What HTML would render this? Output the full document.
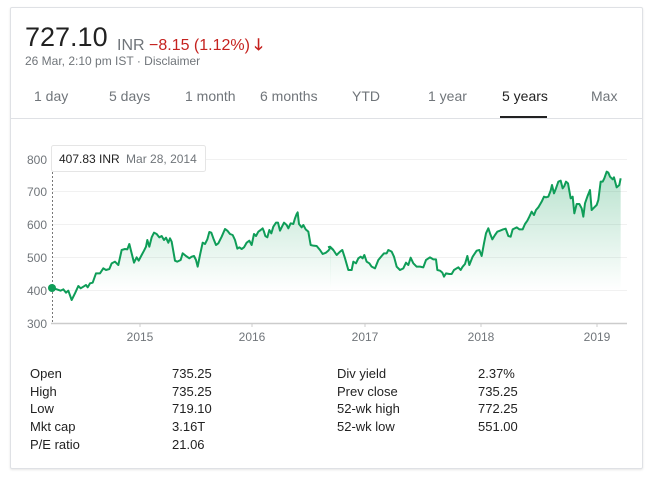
<!DOCTYPE html>
<html><head><style>
body{margin:0;background:#fff;font-family:"Liberation Sans",Arial,sans-serif;}
.card{position:absolute;left:10px;top:7px;width:631px;height:460px;border:1px solid #dfe1e5;border-radius:2px;box-shadow:0 1px 2px rgba(0,0,0,.1);}
.a{position:absolute;white-space:nowrap;}
.tab{position:absolute;top:88px;font-size:14px;color:#70757a;}
.st{position:absolute;font-size:13px;color:#222;}
</style></head><body>
<div class="card"></div>
<div class="a" style="left:25px;top:22px;font-size:27px;color:#222;">727.10</div>
<div class="a" style="left:117px;top:34px;font-size:16px;color:#70757a;">INR <span style="color:#c5221f">−8.15 (1.12%)</span> <span style="color:#c5221f;font-weight:bold">🡓</span></div>
<div class="a" style="left:25px;top:54px;font-size:12px;color:#70757a;">26 Mar, 2:10 pm IST · Disclaimer</div>
<div class="tab" style="left:34px">1 day</div>
<div class="tab" style="left:109px">5 days</div>
<div class="tab" style="left:185px">1 month</div>
<div class="tab" style="left:260px">6 months</div>
<div class="tab" style="left:352px">YTD</div>
<div class="tab" style="left:428px">1 year</div>
<div class="tab" style="left:502px;color:#222">5 years</div>
<div class="tab" style="left:591px">Max</div>
<div class="a" style="left:500px;top:116px;width:47px;height:3px;background:#222"></div>
<div class="a" style="left:11px;top:118px;width:631px;height:1px;background:#dfe1e5"></div>
<svg class="a" style="left:0;top:0" width="652" height="477">
<defs><linearGradient id="g" gradientUnits="userSpaceOnUse" x1="0" y1="0" x2="0" y2="420"><stop offset="0" stop-color="#0f9d58" stop-opacity=".35"/><stop offset="1" stop-color="#0f9d58" stop-opacity="0"/></linearGradient></defs>
<g stroke="#f1f1f1" stroke-width="1">
<line x1="52" x2="627" y1="159.5" y2="159.5"/><line x1="52" x2="627" y1="191.5" y2="191.5"/><line x1="52" x2="627" y1="224.5" y2="224.5"/><line x1="52" x2="627" y1="257.5" y2="257.5"/><line x1="52" x2="627" y1="290.5" y2="290.5"/>
</g>
<g font-size="12" fill="#70757a" text-anchor="end">
<text x="47" y="164">800</text><text x="47" y="196">700</text><text x="47" y="229">600</text><text x="47" y="262">500</text><text x="47" y="295">400</text><text x="47" y="328">300</text>
</g>
<g font-size="12" fill="#70757a" text-anchor="middle">
<text x="140" y="341">2015</text><text x="252" y="341">2016</text><text x="365" y="341">2017</text><text x="481" y="341">2018</text><text x="597" y="341">2019</text>
</g>
<line x1="51" x2="627" y1="323.5" y2="323.5" stroke="#ccc" stroke-width="1.5"/>
<g stroke="#ccc"><line x1="140" x2="140" y1="323" y2="327"/><line x1="252" x2="252" y1="323" y2="327"/><line x1="365" x2="365" y1="323" y2="327"/><line x1="481" x2="481" y1="323" y2="327"/><line x1="597" x2="597" y1="323" y2="327"/></g>
<line x1="52.5" x2="52.5" y1="172" y2="323" stroke="#777" stroke-dasharray="2,2"/>
<g transform="translate(40,150) scale(0.33333)">
<path fill="url(#g)" d="M35,413 L50,418 62,422 70,418 78,428 85,422 95,450 105,430 115,408 122,415 130,410 138,405 143,412 150,400 158,398 168,370 180,370 190,355 198,360 208,357 215,340 225,335 235,345 245,300 255,297 262,298 268,282 275,310 282,338 290,322 296,332 305,315 312,302 318,290 322,270 328,290 335,262 342,248 350,252 358,262 365,258 372,270 378,263 385,278 390,265 395,275 405,332 412,335 422,330 428,310 438,318 448,325 455,320 462,318 468,330 473,350 480,315 488,278 495,282 502,268 508,246 514,248 520,265 528,285 535,280 545,260 555,237 562,242 570,252 578,255 585,270 592,296 598,292 605,297 612,292 620,278 628,272 635,285 642,252 648,258 655,245 662,240 668,235 672,245 676,258 682,262 688,240 694,250 700,230 708,218 714,218 720,242 725,232 732,218 740,225 745,235 752,220 760,222 765,205 770,192 773,187 777,222 785,232 790,225 797,238 805,245 812,285 820,287 830,288 840,300 848,312 858,308 865,302 872,292 L872,420 35,420Z"/>
<polyline fill="none" stroke="#0f9d58" stroke-width="6" stroke-linejoin="round" points="35,413 50,418 62,422 70,418 78,428 85,422 95,450 105,430 115,408 122,415 130,410 138,405 143,412 150,400 158,398 168,370 180,370 190,355 198,360 208,357 215,340 225,335 235,345 245,300 255,297 262,298 268,282 275,310 282,338 290,322 296,332 305,315 312,302 318,290 322,270 328,290 335,262 342,248 350,252 358,262 365,258 372,270 378,263 385,278 390,265 395,275 405,332 412,335 422,330 428,310 438,318 448,325 455,320 462,318 468,330 473,350 480,315 488,278 495,282 502,268 508,246 514,248 520,265 528,285 535,280 545,260 555,237 562,242 570,252 578,255 585,270 592,296 598,292 605,297 612,292 620,278 628,272 635,285 642,252 648,258 655,245 662,240 668,235 672,245 676,258 682,262 688,240 694,250 700,230 708,218 714,218 720,242 725,232 732,218 740,225 745,235 752,220 760,222 765,205 770,192 773,187 777,222 785,232 790,225 797,238 805,245 812,285 820,287 830,288 840,300 848,312 858,308 865,302 872,292 880,300"/>
</g>
<g transform="translate(330,150) scale(0.33333)">
<path fill="url(#g)" d="M0,290 L10,300 20,315 30,305 37,300 45,325 55,360 65,360 70,335 78,340 85,325 92,320 98,325 103,315 110,335 118,340 125,350 135,355 145,330 155,318 162,310 170,310 175,300 185,305 192,320 200,350 210,360 220,355 228,338 235,345 242,323 250,340 260,350 270,350 280,352 288,330 300,322 310,328 318,328 322,360 330,362 337,368 342,380 348,370 358,372 365,372 372,360 385,352 392,360 398,350 405,342 412,318 418,345 428,320 440,302 448,300 455,318 462,280 468,250 475,235 480,250 487,268 495,255 502,245 510,242 520,238 527,236 535,258 542,260 548,238 560,232 568,238 578,238 585,222 592,212 598,200 605,185 612,195 618,180 625,172 635,155 642,140 648,142 655,140 662,122 666,105 672,130 678,115 685,95 692,92 698,115 703,108 708,95 714,100 722,145 728,140 733,190 740,162 748,162 755,175 760,200 765,160 772,140 780,120 785,180 790,175 800,165 805,150 812,95 818,95 823,85 830,65 835,68 840,80 848,88 852,82 860,112 868,105 872,85 L872,420 0,420Z"/>
<polyline fill="none" stroke="#0f9d58" stroke-width="6" stroke-linejoin="round" points="-6,292 0,290 10,300 20,315 30,305 37,300 45,325 55,360 65,360 70,335 78,340 85,325 92,320 98,325 103,315 110,335 118,340 125,350 135,355 145,330 155,318 162,310 170,310 175,300 185,305 192,320 200,350 210,360 220,355 228,338 235,345 242,323 250,340 260,350 270,350 280,352 288,330 300,322 310,328 318,328 322,360 330,362 337,368 342,380 348,370 358,372 365,372 372,360 385,352 392,360 398,350 405,342 412,318 418,345 428,320 440,302 448,300 455,318 462,280 468,250 475,235 480,250 487,268 495,255 502,245 510,242 520,238 527,236 535,258 542,260 548,238 560,232 568,238 578,238 585,222 592,212 598,200 605,185 612,195 618,180 625,172 635,155 642,140 648,142 655,140 662,122 666,105 672,130 678,115 685,95 692,92 698,115 703,108 708,95 714,100 722,145 728,140 733,190 740,162 748,162 755,175 760,200 765,160 772,140 780,120 785,180 790,175 800,165 805,150 812,95 818,95 823,85 830,65 835,68 840,80 848,88 852,82 860,112 868,105 872,85"/>
</g>
<circle cx="52" cy="288" r="4" fill="#0f9d58"/>
<rect x="51.5" y="145.5" width="154" height="26" rx="2" fill="#fff" stroke="#e5e5e5"/>
<text x="59" y="163" font-size="12" fill="#222">407.83 INR <tspan fill="#70757a" dx="3">Mar 28, 2014</tspan></text>
</svg>
<div class="st" style="left:30px;top:366px">Open</div><div class="st" style="left:172px;top:366px">735.25</div>
<div class="st" style="left:30px;top:384px">High</div><div class="st" style="left:172px;top:384px">735.25</div>
<div class="st" style="left:30px;top:401px">Low</div><div class="st" style="left:172px;top:401px">719.10</div>
<div class="st" style="left:30px;top:419px">Mkt cap</div><div class="st" style="left:172px;top:419px">3.16T</div>
<div class="st" style="left:30px;top:437px">P/E ratio</div><div class="st" style="left:172px;top:437px">21.06</div>
<div class="st" style="left:337px;top:366px">Div yield</div><div class="st" style="left:478px;top:366px">2.37%</div>
<div class="st" style="left:337px;top:384px">Prev close</div><div class="st" style="left:478px;top:384px">735.25</div>
<div class="st" style="left:337px;top:401px">52-wk high</div><div class="st" style="left:478px;top:401px">772.25</div>
<div class="st" style="left:337px;top:419px">52-wk low</div><div class="st" style="left:478px;top:419px">551.00</div>
</body></html>
